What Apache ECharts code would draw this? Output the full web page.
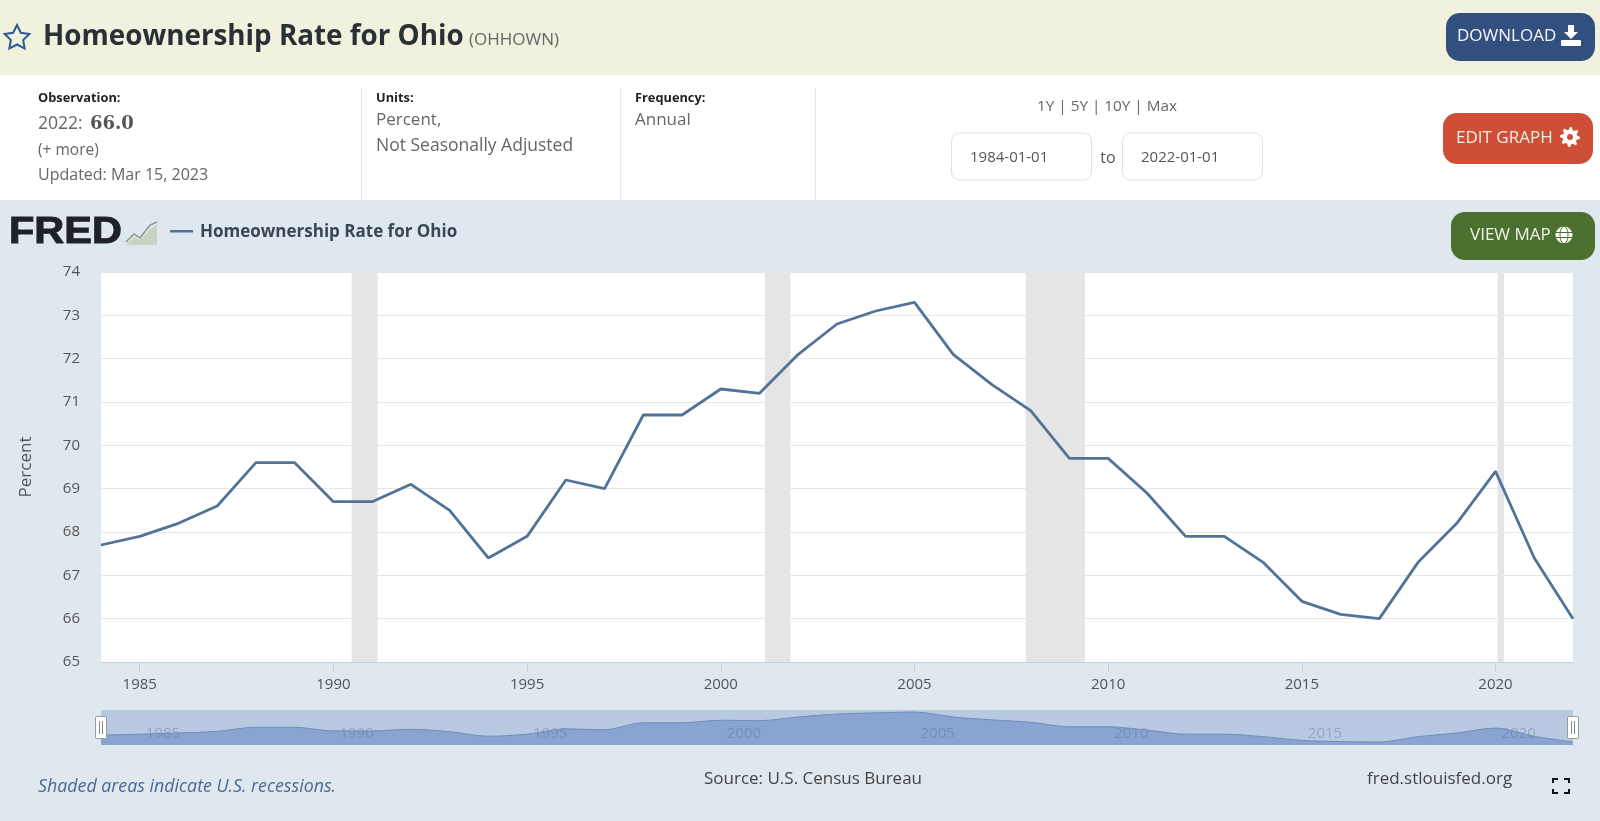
<!DOCTYPE html>
<html>
<head>
<meta charset="utf-8">
<style>html,body{margin:0;padding:0;background:#dfe7ef}#container{width:1600px;height:821px}</style>
<script src="https://cdn.jsdelivr.net/npm/echarts@6/dist/echarts.min.js"></script>
</head>
<body>
<div id="container"></div>
<script>
var years = [1984,1985,1986,1987,1988,1989,1990,1991,1992,1993,1994,1995,1996,1997,1998,1999,2000,2001,2002,2003,2004,2005,2006,2007,2008,2009,2010,2011,2012,2013,2014,2015,2016,2017,2018,2019,2020,2021,2022];
var rates = [67.7,67.9,68.2,68.6,69.6,69.6,68.7,68.7,69.1,68.5,67.4,67.9,69.2,69.0,70.7,70.7,71.3,71.2,72.1,72.8,73.1,73.3,72.1,71.4,70.8,69.7,69.7,68.9,67.9,67.9,67.3,66.4,66.1,66.0,67.3,68.2,69.4,67.4,66.0];
var recessionStart = [1990.47,2001.14,2007.87,2020.05];
var recessionEnd = [1991.14,2001.8,2009.4,2020.22];
var yearTicks = [1985,1990,1995,2000,2005,2010,2015,2020];

var FONT = '"Open Sans", sans-serif';
var myChart = echarts.init(document.getElementById('container'));

function txt(x, y, text, size, color, extra) {
  return {
    type: 'text', x: x, y: y + 1, silent: true,
    style: Object.assign({ text: text, fontFamily: FONT, fontSize: size, fill: color, verticalAlign: 'middle' }, extra || {})
  };
}
function box(x, y, w, h, fill, r, stroke) {
  return {
    type: 'rect', silent: true,
    shape: { x: x, y: y, width: w, height: h, r: r || 0 },
    style: { fill: fill, stroke: stroke || null, lineWidth: stroke ? 1 : 0 }
  };
}
function star(cx, cy, r) {
  var pts = [];
  for (var i = 0; i < 10; i++) {
    var a = -Math.PI / 2 + i * Math.PI / 5;
    var d = i % 2 ? r * 0.5 : r;
    pts.push([cx + d * Math.cos(a), cy + d * Math.sin(a)]);
  }
  return { type: 'polygon', silent: true, shape: { points: pts }, style: { fill: 'none', stroke: '#2f5a94', lineWidth: 2 } };
}
function gear(cx, cy, r) {
  var pts = [];
  for (var i = 0; i < 32; i++) {
    var a = i * Math.PI / 16;
    var d = (i % 4 < 2) ? r : r * 0.72;
    pts.push([cx + d * Math.cos(a), cy + d * Math.sin(a)]);
  }
  return { type: 'polygon', silent: true, shape: { points: pts }, style: { fill: '#ffffff' } };
}
function corner(x, y, dx, dy) {
  return { type: 'polyline', silent: true, shape: { points: [[x + dx, y], [x, y], [x, y + dy]] }, style: { stroke: '#111', lineWidth: 2, fill: null } };
}

var page = [
  // 页面背景
  box(0, 0, 1600, 75, '#f0f2dd'),
  box(0, 75, 1600, 125, '#ffffff'),
  box(361, 88, 1, 112, '#e8e8e8'),
  box(620, 88, 1, 112, '#e8e8e8'),
  box(815, 88, 1, 112, '#e8e8e8'),
  star(17, 38, 13),
  txt(43, 36, 'Homeownership Rate for Ohio', 27.8, '#2b2f36', { fontWeight: 'bold' }),
  txt(469, 39, '(OHHOWN)', 17, '#666666'),
  // 信息栏
  txt(38, 97, 'Observation:', 12.8, '#222222', { fontWeight: 'bold' }),
  txt(38, 123, '2022:', 17.5, '#666666'),
  txt(90, 123, '66.0', 18, '#555555', { fontWeight: 'bold', fontFamily: '"DejaVu Serif", serif' }),
  txt(38, 150, '(+ more)', 15.5, '#666666'),
  txt(38, 174, 'Updated: Mar 15, 2023', 16, '#666666'),
  txt(376, 97, 'Units:', 12.8, '#222222', { fontWeight: 'bold' }),
  txt(376, 119, 'Percent,', 17, '#666666'),
  txt(376, 145, 'Not Seasonally Adjusted', 17.5, '#666666'),
  txt(635, 97, 'Frequency:', 12.8, '#222222', { fontWeight: 'bold' }),
  txt(635, 119, 'Annual', 17, '#666666'),
  txt(1107, 106, '1Y | 5Y | 10Y | Max', 15.3, '#666666', { align: 'center' }),
  box(951.5, 133, 140, 47, '#ffffff', 8, '#e2e2e2'),
  box(1122.5, 133, 140, 47, '#ffffff', 8, '#e2e2e2'),
  txt(970, 157, '1984-01-01', 15, '#555555'),
  txt(1108, 157, 'to', 16, '#555555', { align: 'center' }),
  txt(1141, 157, '2022-01-01', 15, '#555555'),
  // 按钮
  box(1446, 13, 149, 48, '#32507f', 14),
  txt(1457, 35, 'DOWNLOAD', 17, '#f2f5fa'),
  { type: 'polygon', silent: true, shape: { points: [[1568,25],[1574,25],[1574,32],[1578,32],[1571,39],[1564,32],[1568,32]] }, style: { fill: '#ffffff' } },
  box(1561, 40, 20, 6, '#ffffff', 1),
  box(1443, 113, 150, 51, '#cf4f36', 14),
  txt(1456, 137, 'EDIT GRAPH', 17, '#f8ece8'),
  gear(1570, 137, 10),
  { type: 'circle', silent: true, shape: { cx: 1570, cy: 137, r: 3 }, style: { fill: '#cf4f36' } },
  box(1451, 212, 144, 48, '#4c7030', 14),
  txt(1470, 234, 'VIEW MAP', 17, '#eef3e8'),
  { type: 'circle', silent: true, shape: { cx: 1564, cy: 235, r: 8.5 }, style: { fill: '#ffffff' } },
  box(1555, 232, 18, 1, '#4c7030'),
  box(1555, 237, 18, 1, '#4c7030'),
  { type: 'ellipse', silent: true, shape: { cx: 1564, cy: 235, rx: 4, ry: 8.5 }, style: { fill: null, stroke: '#4c7030', lineWidth: 1 } },
  // 图例
  { type: 'text', x: 9, y: 233, scaleX: 1.12, silent: true, style: { text: 'FRED', fontFamily: '"Liberation Sans", sans-serif', fontWeight: 'bold', fontSize: 37, fill: '#1e2126', stroke: '#1e2126', lineWidth: 1, verticalAlign: 'middle' } },
  { type: 'polygon', silent: true, shape: { points: [[126,245],[134,237],[140,240],[150,229],[157,224],[157,245]] }, style: { fill: '#c8d3c4' } },
  { type: 'polyline', silent: true, shape: { points: [[126,242],[134,234],[140,238],[150,225],[157,222]] }, style: { stroke: '#8a9a80', lineWidth: 1.5, fill: null } },
  box(170, 230, 23, 2.5, '#4f7199'),
  txt(200, 231, 'Homeownership Rate for Ohio', 17, '#3b4654', { fontWeight: 'bold' }),
  // 底部
  txt(38, 786, 'Shaded areas indicate U.S. recessions.', 17.8, '#4a6a94', { fontStyle: 'italic' }),
  txt(813, 778, 'Source: U.S. Census Bureau', 17, '#444444', { align: 'center' }),
  txt(1367, 778, 'fred.stlouisfed.org', 17, '#444444'),
  corner(1553, 779, 5, 4), corner(1569, 779, -5, 4), corner(1553, 793, 5, -4), corner(1569, 793, -5, -4)
];

var handles = [];
[95, 1567].forEach(function (x) {
  handles.push(box(x + 0.5, 716.5, 11, 22, '#ffffff', 1, '#9a9a9a'));
  handles.push(box(x + 4, 721, 1, 13, '#888888'));
  handles.push(box(x + 7, 721, 1, 13, '#888888'));
});

var options = {
  animation: false,
  backgroundColor: '#dfe7ef',
  textStyle: { fontFamily: FONT },
  graphic: { elements: page.concat(handles.map(function (h) { h.z = 100; return h; })) },
  grid: [
    { left: 101, right: 27, top: 272, height: 390, show: true, backgroundColor: '#ffffff', borderWidth: 0 },
    { left: 101, right: 27, top: 710, height: 35, show: true, backgroundColor: '#b9c9e2', borderWidth: 0 }
  ],
  xAxis: [{
    gridIndex: 0, type: 'value', min: 1984, max: 2022,
    splitLine: { show: false },
    axisLine: { lineStyle: { color: '#c0d0e0' } },
    axisTick: { length: 10, lineStyle: { color: '#c0d0e0' }, customValues: yearTicks },
    axisLabel: { color: '#555555', fontSize: 15, margin: 15, customValues: yearTicks, formatter: function (v) { return String(v); } }
  }, {
    gridIndex: 1, type: 'value', min: 1984, max: 2022,
    splitLine: { show: false },
    axisLine: { show: false },
    axisTick: { show: false },
    axisLabel: { inside: true, align: 'left', margin: 4, padding: [0, 0, 0, 6], color: 'rgba(70,85,110,0.3)', fontSize: 15, customValues: yearTicks, formatter: function (v) { return String(v); } }
  }],
  yAxis: [{
    gridIndex: 0, type: 'value', min: 65, max: 74, interval: 1,
    name: 'Percent', nameLocation: 'middle', nameGap: 66, nameRotate: 90,
    nameTextStyle: { color: '#555555', fontSize: 17 },
    axisLine: { show: false },
    axisTick: { show: false },
    splitLine: { lineStyle: { color: '#e6e6e6' } },
    axisLabel: { color: '#555555', fontSize: 15, margin: 21, padding: [3, 0, 0, 0] }
  }, {
    gridIndex: 1, type: 'value', min: 65.27, max: 73.8,
    show: false, splitLine: { show: false }
  }],
  series: [{
    name: 'Homeownership Rate for Ohio',
    type: 'line', xAxisIndex: 0, yAxisIndex: 0,
    symbol: 'none',
    lineStyle: { color: '#527399', width: 2.8 },
    data: years.map(function (y, i) { return [y, rates[i]]; }),
    markArea: {
      silent: true,
      itemStyle: { color: '#e5e5e5' },
      data: recessionStart.map(function (s, i) { return [{ xAxis: s }, { xAxis: recessionEnd[i] }]; })
    }
  }, {
    type: 'line', xAxisIndex: 1, yAxisIndex: 1,
    symbol: 'none', smooth: 0.3,
    lineStyle: { color: '#6f8dbb', width: 1 },
    areaStyle: { color: 'rgba(60,105,180,0.55)', origin: 'start' },
    data: years.map(function (y, i) { return [y, rates[i]]; })
  }]
};

myChart.setOption(options);
</script>
</body>
</html>
